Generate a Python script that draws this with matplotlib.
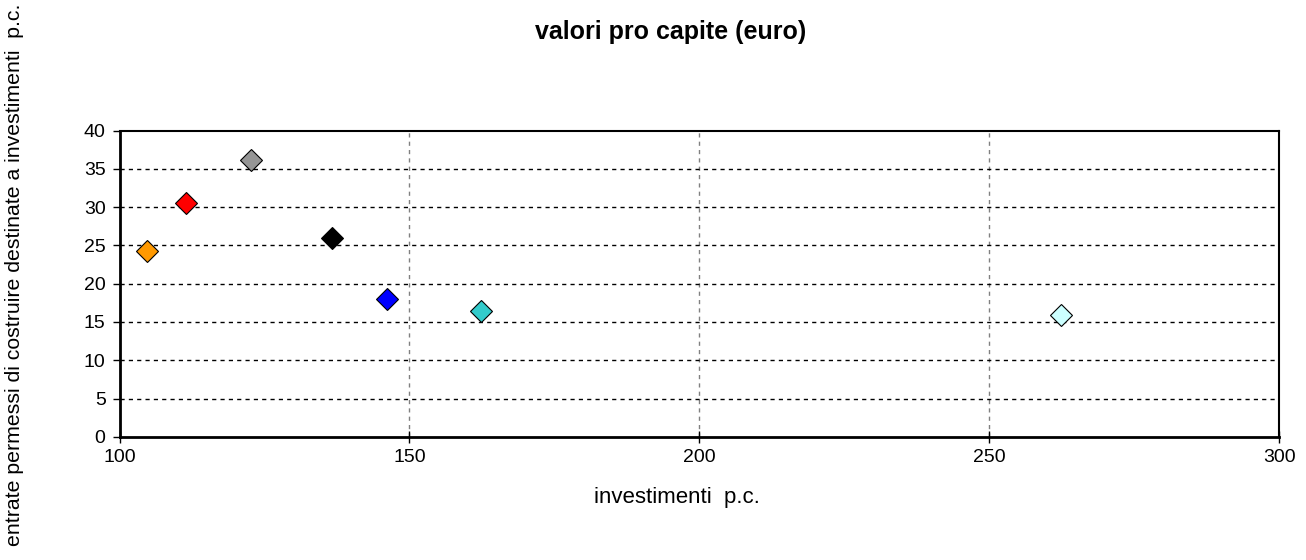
import matplotlib
matplotlib.use("Agg")
import matplotlib.pyplot as plt

# per-capita values
investimenti = [104.7, 111.4, 122.6, 136.6, 146.2, 162.4, 262.3]
entrate = [24.3, 30.5, 36.2, 25.9, 18.0, 16.4, 15.9]
colori = ["#FF9900", "#FF0000", "#969696", "#000000", "#0000FF", "#33CCCC", "#CCFFFF"]

x_ticks = [100, 150, 200, 250, 300]
y_ticks = [0, 5, 10, 15, 20, 25, 30, 35, 40]

plt.rcParams["font.family"] = ["Liberation Sans", "DejaVu Sans"]

fig = plt.figure(figsize=(13.06, 5.6), dpi=100)
ax = fig.add_axes([119.5 / 1306, 1 - 436.8 / 560, (1279.3 - 119.5) / 1306, (436.8 - 130.5) / 560])

ax.set_xlim(100, 300)
ax.set_ylim(0, 40)
ax.set_xticks(x_ticks)
ax.set_yticks(y_ticks)

# dashed grid: vertical in grey, horizontal in black
for xv in x_ticks[1:]:
    ax.axvline(xv, color="#808080", linestyle=(0, (3, 3)), linewidth=1.0, zorder=1)
for yv in y_ticks[1:-1]:
    ax.axhline(yv, color="#000000", linestyle=(0, (3, 3)), linewidth=1.0, zorder=1)

for xi, yi, c in zip(investimenti, entrate, colori):
    ax.plot(xi, yi, marker="D", markersize=11, markerfacecolor=c,
            markeredgecolor="#000000", markeredgewidth=0.8, linestyle="none", zorder=3)

for side in ["left", "bottom"]:
    ax.spines[side].set_linewidth(2.0)
for side in ["top", "right"]:
    ax.spines[side].set_linewidth(1.5)
for s in ax.spines.values():
    s.set_color("#000000")
    s.set_zorder(2)

ax.tick_params(axis="y", direction="out", length=5, width=1, labelsize=14, pad=5)
ax.tick_params(axis="x", direction="inout", length=8, width=1, labelsize=14, pad=5)

fig.text(677 / 1306, 1 - 498 / 560, "investimenti  p.c.", fontsize=16,
         ha="center", va="center")
fig.text(15 / 1306, 1 - 275 / 560, "entrate permessi di costruire destinate a investimenti  p.c.",
         rotation=90, fontsize=15.3, ha="center", va="center")
fig.text(671 / 1306, 1 - 32 / 560, "valori pro capite (euro)", fontsize=18,
         fontweight="bold", ha="center", va="center")

fig.savefig("out.png", dpi=100)
